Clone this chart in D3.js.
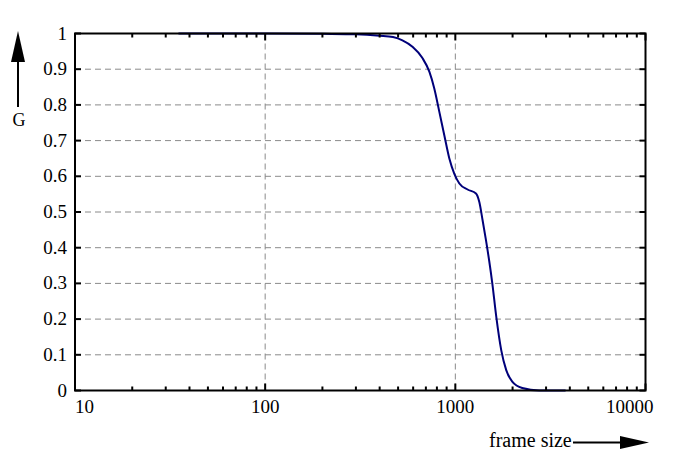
<!DOCTYPE html>
<html>
<head>
<meta charset="utf-8">
<script src="https://cdn.jsdelivr.net/npm/d3@7"></script>
<style>
  body { margin: 0; background: #fff; }
  text { font-family: "Liberation Serif", "DejaVu Serif", serif; fill: #000; }
</style>
</head>
<body>
<script>
// curve: frame size -> G
var frameSize = [35, 100, 200, 300, 400, 470, 527, 595, 670, 730, 775, 825, 875, 930,
                 988, 1050, 1160, 1284, 1337, 1391, 1449, 1508, 1564, 1642, 1743,
                 1852, 1992, 2248, 2760, 3800];
var gValue = [1.0, 1.0, 0.999, 0.998, 0.994, 0.99, 0.981, 0.963, 0.932, 0.893, 0.846,
              0.779, 0.715, 0.65, 0.607, 0.58, 0.563, 0.552, 0.528, 0.477, 0.421,
              0.362, 0.301, 0.206, 0.113, 0.057, 0.025, 0.007, 0.0, 0.0];

var xMajor = [10, 100, 1000, 10000];
var xGrid = [100, 1000];
var yTicks = [0, 0.1, 0.2, 0.3, 0.4, 0.5, 0.6, 0.7, 0.8, 0.9, 1];
var yLabels = ["0", "0.1", "0.2", "0.3", "0.4", "0.5", "0.6", "0.7", "0.8", "0.9", "1"];

var width = 698,
    height = 461;

var pLeft = 75, pRight = 645.5, pTop = 33.5, pBottom = 390.5;

var x = d3.scaleLog().domain([10, 10000]).range([pLeft, pRight]);
var y = d3.scaleLinear().domain([0, 1]).range([pBottom, pTop]);

var svg = d3.select("body").append("svg")
    .attr("width", width)
    .attr("height", height);

var xMinor = [];
[10, 100, 1000].forEach(function(d){
  for (var k = 2; k <= 9; k++) xMinor.push(d * k);
});

// grid
svg.append("g").selectAll("line")
    .data(yTicks.slice(1, -1))
  .enter().append("line")
    .attr("x1", pLeft).attr("x2", pRight)
    .attr("y1", y).attr("y2", y)
    .attr("stroke", "#8a8a8a").attr("stroke-width", 1)
    .attr("stroke-dasharray", "6,4");

svg.append("g").selectAll("line")
    .data(xGrid)
  .enter().append("line")
    .attr("x1", x).attr("x2", x)
    .attr("y1", pTop).attr("y2", pBottom)
    .attr("stroke", "#8a8a8a").attr("stroke-width", 1)
    .attr("stroke-dasharray", "6,4");

// curve
var line = d3.line()
    .x(function(d, i) { return x(frameSize[i]); })
    .y(function(d) { return y(d); })
    .curve(d3.curveMonotoneX);

svg.append("path")
    .datum(gValue)
    .attr("d", line)
    .attr("fill", "none")
    .attr("stroke", "#00007a")
    .attr("stroke-width", 2);

// frame
svg.append("rect")
    .attr("x", pLeft).attr("y", pTop)
    .attr("width", pRight - pLeft).attr("height", pBottom - pTop)
    .attr("fill", "none").attr("stroke", "#000").attr("stroke-width", 2);

// x ticks, inward on bottom and top
var ticks = svg.append("g").attr("stroke", "#000").attr("stroke-width", 2);
ticks.selectAll(".xminb").data(xMinor).enter().append("line")
    .attr("x1", x).attr("x2", x).attr("y1", pBottom).attr("y2", pBottom - 4);
ticks.selectAll(".xmint").data(xMinor).enter().append("line")
    .attr("x1", x).attr("x2", x).attr("y1", pTop).attr("y2", pTop + 4);
ticks.selectAll(".xmajb").data(xMajor).enter().append("line")
    .attr("x1", x).attr("x2", x).attr("y1", pBottom).attr("y2", pBottom - 7);
ticks.selectAll(".xmajt").data(xMajor).enter().append("line")
    .attr("x1", x).attr("x2", x).attr("y1", pTop).attr("y2", pTop + 7);
ticks.selectAll(".yl").data(yTicks).enter().append("line")
    .attr("x1", pLeft).attr("x2", pLeft + 6).attr("y1", y).attr("y2", y);
ticks.selectAll(".yr").data(yTicks).enter().append("line")
    .attr("x1", pRight).attr("x2", pRight - 6).attr("y1", y).attr("y2", y);

// tick labels
svg.append("g").selectAll("text")
    .data(yTicks)
  .enter().append("text")
    .attr("x", 67)
    .attr("y", function(d) { return y(d) + 6; })
    .attr("text-anchor", "end")
    .attr("font-size", 19)
    .text(function(d, i) { return yLabels[i]; });

svg.append("g").selectAll("text")
    .data(xMajor)
  .enter().append("text")
    .attr("x", function(d, i) {
      if (i === xMajor.length - 1) return x(d) + 8;
      return x(d);
    })
    .attr("y", 413)
    .attr("text-anchor", function(d, i) {
      if (i === 0) return "start";
      if (i === xMajor.length - 1) return "end";
      return "middle";
    })
    .attr("font-size", 19)
    .text(function(d) { return d; });

// axis names with arrows
svg.append("line")
    .attr("x1", 18).attr("x2", 18).attr("y1", 107).attr("y2", 60)
    .attr("stroke", "#000").attr("stroke-width", 2);
svg.append("path")
    .attr("d", "M18,31 L25,62 L11,62 Z")
    .attr("fill", "#000");
svg.append("text")
    .attr("x", 19).attr("y", 126)
    .attr("text-anchor", "middle")
    .attr("font-size", 18)
    .text("G");

svg.append("text")
    .attr("x", 489).attr("y", 447)
    .attr("font-size", 20)
    .text("frame size");
svg.append("line")
    .attr("x1", 573).attr("x2", 622).attr("y1", 442.5).attr("y2", 442.5)
    .attr("stroke", "#000").attr("stroke-width", 2);
svg.append("path")
    .attr("d", "M649,442.5 L620,436 L620,449 Z")
    .attr("fill", "#000");
</script>
</body>
</html>
